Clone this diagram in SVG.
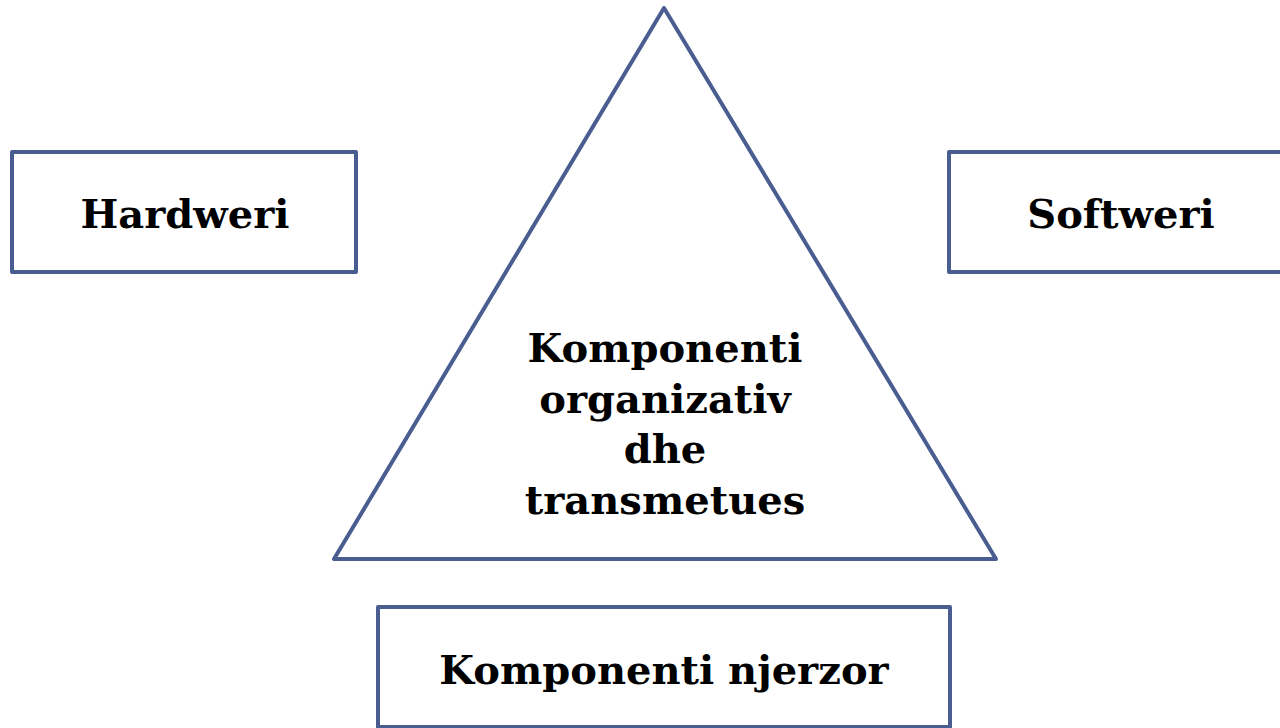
<svg xmlns="http://www.w3.org/2000/svg" width="1280" height="728" viewBox="0 0 1280 728">
<style>
.box{fill:#ffffff;stroke:#4a5d91;stroke-width:4;stroke-linejoin:round}
.lbl{font-family:"DejaVu Serif","Liberation Serif",serif;font-weight:bold;font-size:40px;fill:#000000;text-anchor:middle}
</style>
<rect width="1280" height="728" fill="#ffffff"/>
<g id="connectors"></g>
<g id="node-triangle">
<polygon class="box" points="664,8 334,559 996,559"/>
<text class="lbl" x="665" y="362">Komponenti</text>
<text class="lbl" x="665" y="413">organizativ</text>
<text class="lbl" x="665" y="463">dhe</text>
<text class="lbl" x="665" y="514">transmetues</text>
</g>
<g id="node-hardweri">
<rect class="box" x="12" y="152" width="344" height="120"/>
<text class="lbl" x="185" y="228">Hardweri</text>
</g>
<g id="node-softweri">
<rect class="box" x="949" y="152" width="345" height="120"/>
<text class="lbl" x="1121" y="228">Softweri</text>
</g>
<g id="node-njerzor">
<rect class="box" x="378" y="607" width="572" height="120"/>
<text class="lbl" x="664" y="684">Komponenti njerzor</text>
</g>
</svg>
